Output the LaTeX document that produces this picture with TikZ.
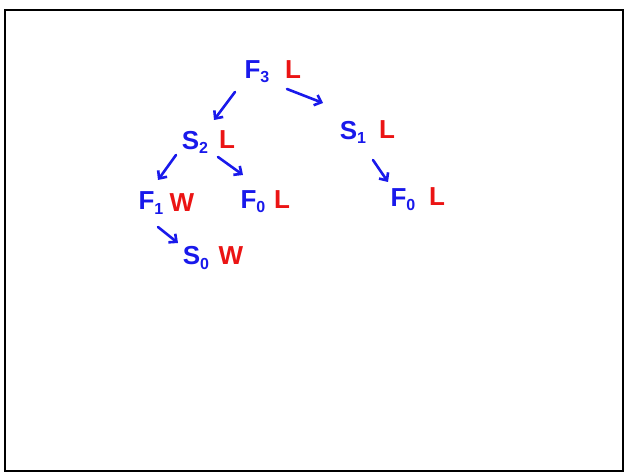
\documentclass[tikz,border=0pt]{standalone}
\usepackage{fontspec}
\setmainfont{Liberation Sans}
\usetikzlibrary{arrows.meta}
\definecolor{inkblue}{RGB}{25,25,235}
\definecolor{inkred}{RGB}{235,20,20}
\newcommand{\sbx}[1]{\raisebox{-0.3ex}{\fontsize{16}{18}\selectfont #1}}
\begin{document}
\begin{tikzpicture}[x=1pt,y=-1pt,
  bl/.style={inner sep=0pt,text=inkblue,font=\fontsize{26}{29}\selectfont\bfseries},
  rd/.style={inner sep=0pt,text=inkred,font=\fontsize{26}{29}\selectfont\bfseries},
  arr/.style={draw=inkblue,line width=2.6pt,line cap=round,line join=round,-{Straight Barb[length=6pt,width=11pt,line width=2.6pt]}}]
\useasboundingbox (0,0) rectangle (625,473);
\draw[line width=2.2pt] (5,10) rectangle (623,471);
% blue parts
\node[bl] (f3) at (257,72) {F\sbx{3}};
\node[bl] (s2) at (195,142) {S\sbx{2}};
\node[bl] (s1) at (353,132) {S\sbx{1}};
\node[bl] (f1) at (151,203) {F\sbx{1}};
\node[bl] (f0a) at (253,202) {F\sbx{0}};
\node[bl] (f0b) at (403,200) {F\sbx{0}};
\node[bl] (s0) at (196,258) {S\sbx{0}};
% red parts
\node[rd] (f3r) at (293,70) {L};
\node[rd] (s2r) at (227,140) {L};
\node[rd] (s1r) at (387,130) {L};
\node[rd] (f1r) at (182,203) {W};
\node[rd] (f0ar) at (282,200) {L};
\node[rd] (f0br) at (437,197) {L};
\node[rd] (s0r) at (231,256) {W};
% arrows
\draw[arr] ([shift={(-22,20)}]f3.center) -- ([shift={(19,-22)}]s2.center);
\draw[arr] ([shift={(30,17)}]f3.center) -- ([shift={(-30,-29)}]s1.center);
\draw[arr] ([shift={(-19,13)}]s2.center) -- ([shift={(7,-23)}]f1.center);
\draw[arr] ([shift={(23,15)}]s2.center) -- ([shift={(-10,-27)}]f0a.center);
\draw[arr] ([shift={(20,28)}]s1.center) -- ([shift={(-15,-18)}]f0b.center);
\draw[arr] ([shift={(7,24)}]f1.center) -- ([shift={(-18,-15)}]s0.center);
\end{tikzpicture}
\end{document}
